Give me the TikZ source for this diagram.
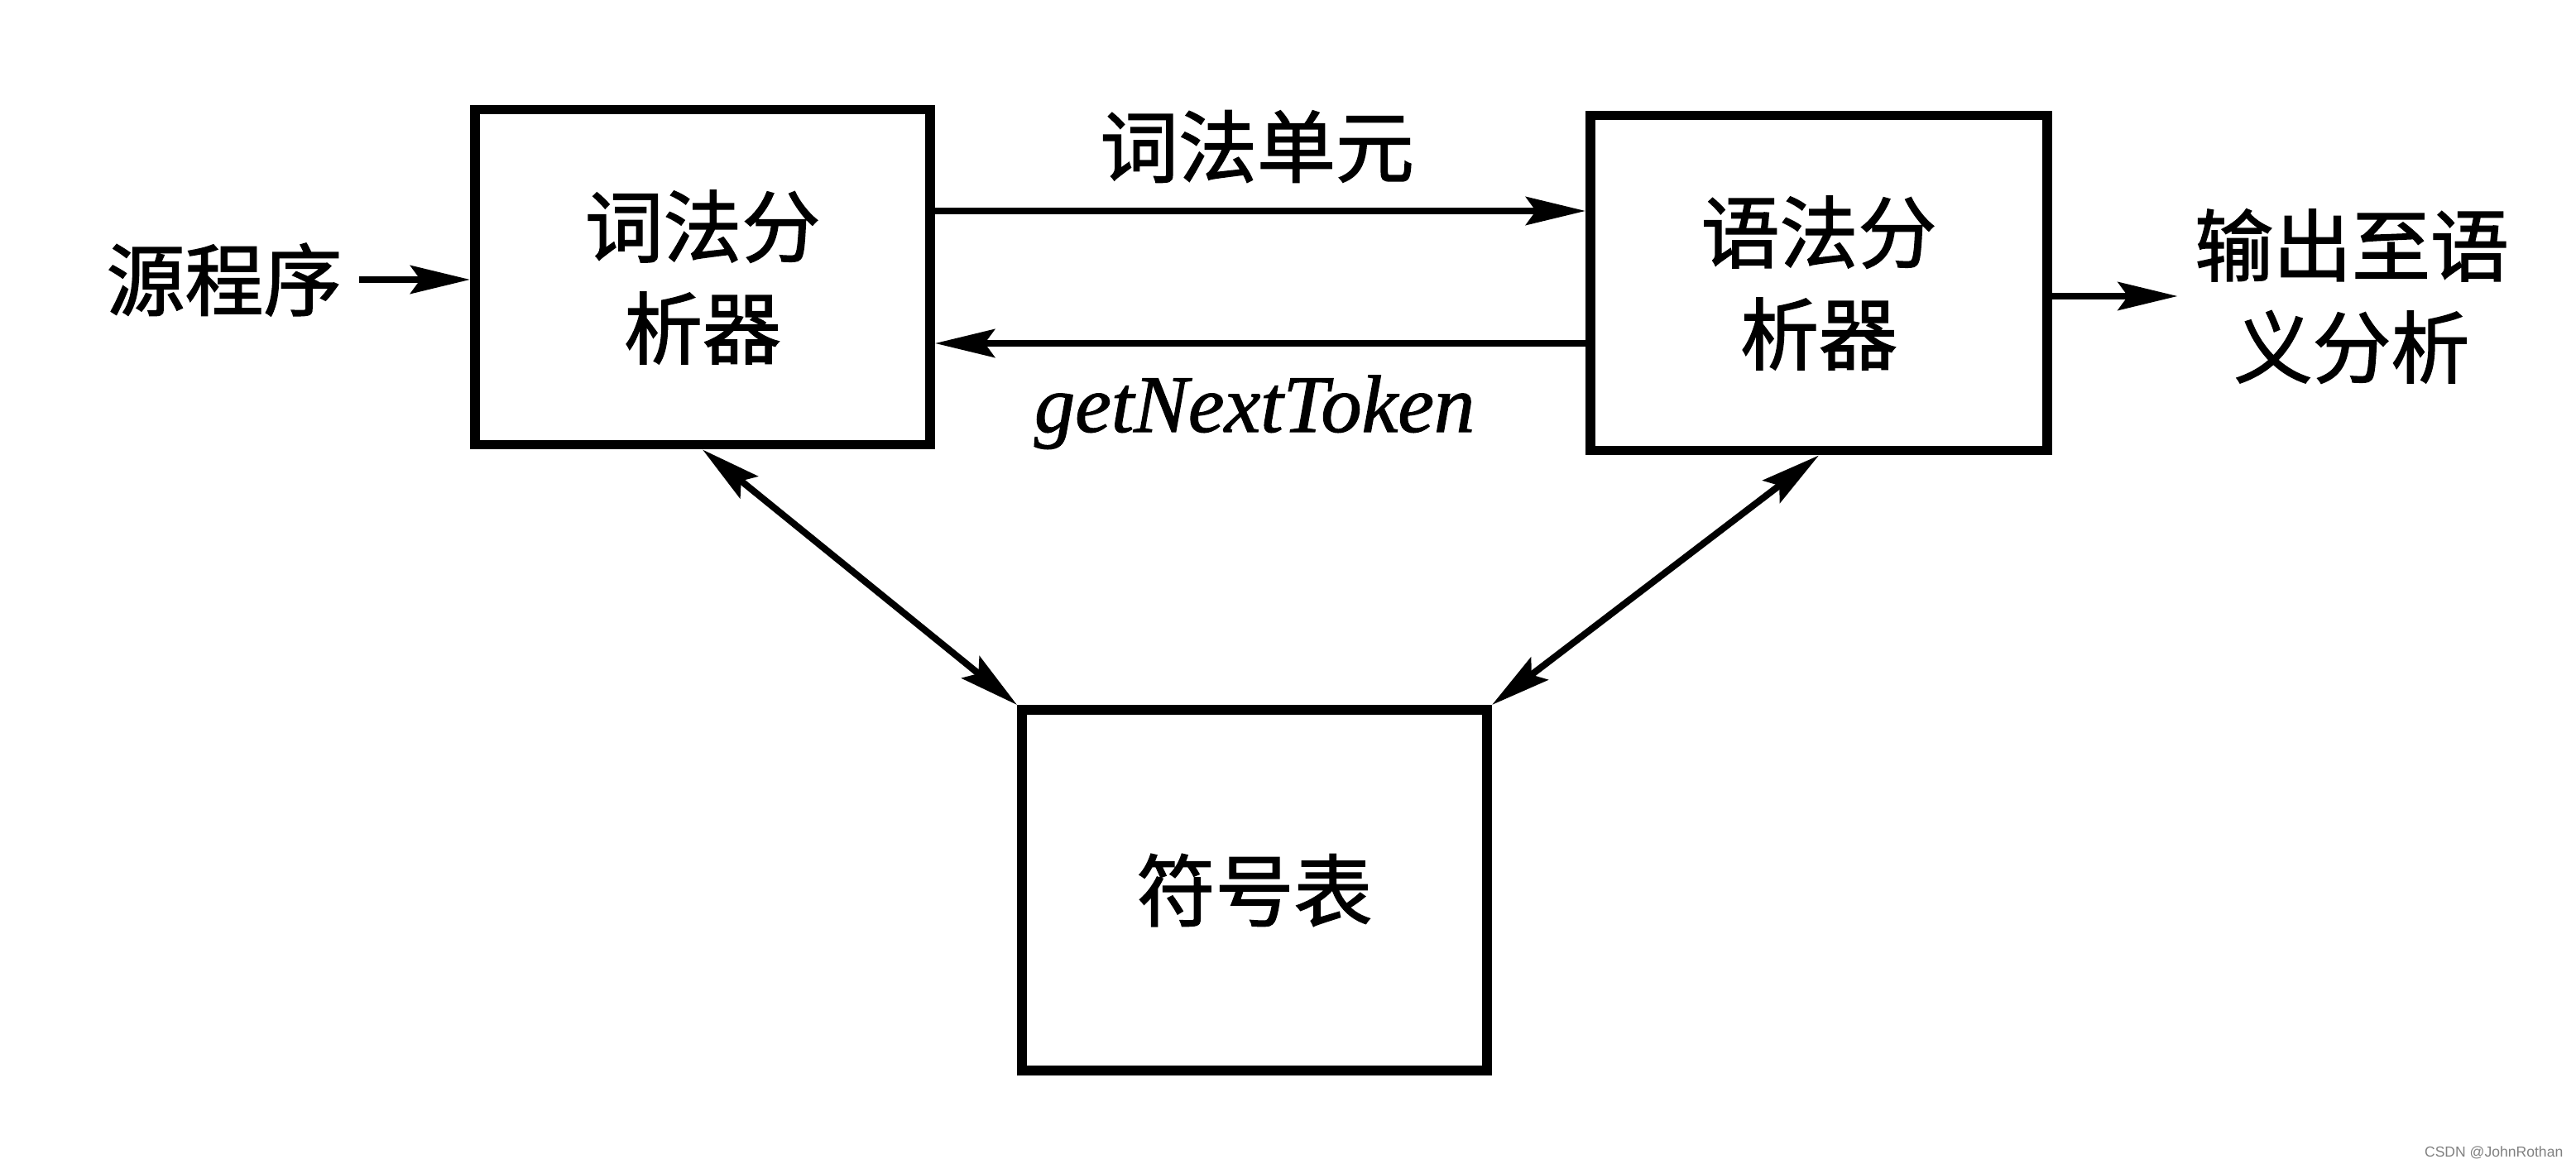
\documentclass[tikz,border=0pt]{standalone}
\usepackage{fontspec}
\setmainfont{Noto Sans CJK SC}[FakeBold=1.6]
\newfontfamily\tokenfont{Liberation Serif}[FakeBold=1.2]
\newfontfamily\markfont{Liberation Sans}
\usetikzlibrary{arrows.meta,positioning}

\begin{document}
\begin{tikzpicture}[
    every node/.style={font=\fontsize{27}{35}\selectfont},
    block/.style={
        draw,
        line width=3.4pt,
        minimum width=5.5cm,
        minimum height=4.05cm,
        align=center
    },
    arrow/.style={-{Stealth[length=0.72cm,width=0.34cm,inset=0.12cm]}, line width=2.3pt},
    twoway/.style={{Stealth[length=0.72cm,width=0.34cm,inset=0.12cm]}-{Stealth[length=0.72cm,width=0.34cm,inset=0.12cm]}, line width=2.3pt},
    txt/.style={inner sep=0.2cm, align=center}
]
\useasboundingbox (0,0) rectangle (31.13,-14.07);

\node[block] (lex) at (8.49,-3.35) {词法分\\析器};
\node[block, minimum width=5.52cm] (syn) at (21.98,-3.42) {语法分\\析器};
\node[block, minimum width=5.62cm, minimum height=4.36cm] (tab) at (15.16,-10.76) {符号表};

\node[txt] (src) at (2.71,-3.38) {源程序};
\node[txt] (out) at (28.42,-3.58) {输出至语\\义分析};

\draw[arrow] (src.east) -- (src.east -| lex.west);
\draw[arrow] ([yshift=0.8cm]lex.east) -- ([yshift=0.8cm]lex.east -| syn.west);
\draw[arrow] ([yshift=-0.8cm]lex.east -| syn.west) -- ([yshift=-0.8cm]lex.east);
\draw[arrow] (syn.east |- out.west) -- (out.west);

\node[txt] (unit) at (15.19,-1.77) {词法单元};
\node[txt, font=\tokenfont\itshape\fontsize{28}{34}\selectfont, anchor=base] (next) at (15.16,-5.22) {getNextToken};

\draw[twoway] (lex.south) -- (tab.north west);
\draw[twoway] (syn.south) -- (tab.north east);

\node[font=\markfont\fontsize{5}{6}\selectfont, text=gray, anchor=base east, inner sep=0pt] (mark) at (30.98,-13.98) {CSDN @JohnRothan};

\end{tikzpicture}
\end{document}
